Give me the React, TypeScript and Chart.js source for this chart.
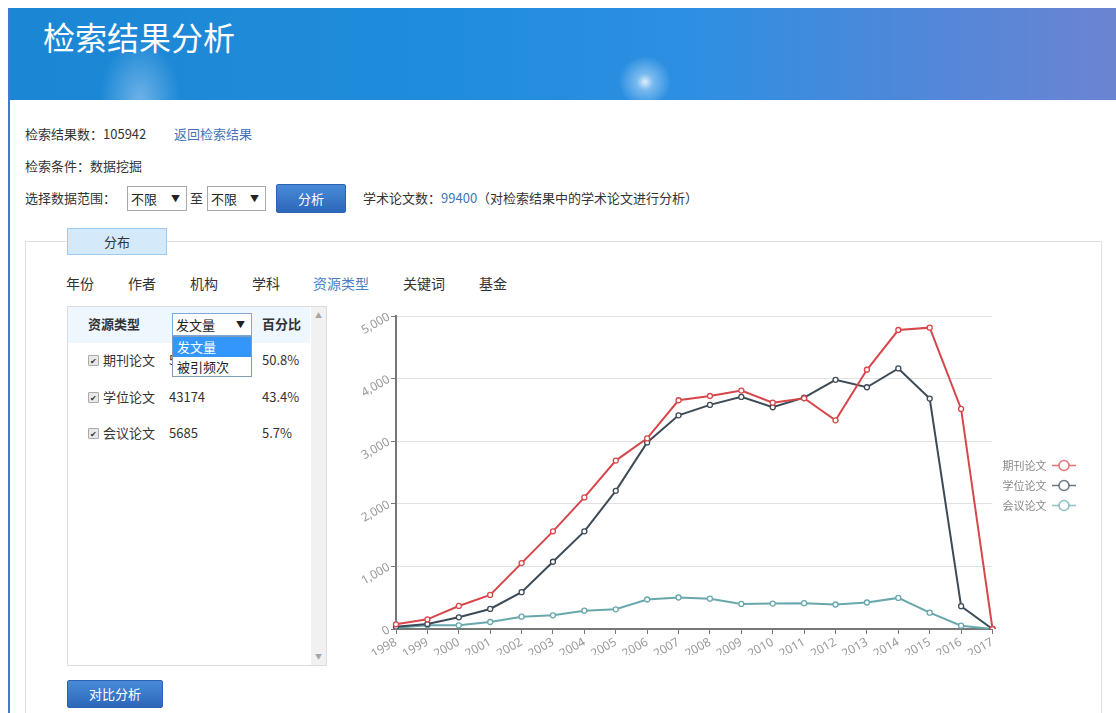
import React, { useEffect, useRef } from "react";
import { Chart, registerables } from "chart.js";
Chart.register(...registerables);

const years = ["1998","1999","2000","2001","2002","2003","2004","2005","2006","2007","2008","2009","2010","2011","2012","2013","2014","2015","2016","2017"];
const journal = [75,155,368,545,1053,1560,2102,2690,3045,3654,3722,3808,3615,3686,3333,4141,4776,4814,3516,0];
const thesis = [37,80,187,320,588,1074,1560,2207,2981,3413,3580,3708,3542,3697,3981,3862,4162,3681,364,0];
const conference = [20,59,59,112,197,219,293,315,471,503,484,401,406,412,391,423,497,261,53,0];
const seriesNames = ["期刊论文","学位论文","会议论文"];
const seriesColors = ["#d6474b","#3d4b57","#68a8ad"];
const yMax = 5000;
const yStep = 1000;

const resourceTypes = ["期刊论文","学位论文","会议论文"];
const resourceCounts = ["50541","43174","5685"];
const resourcePercents = ["50.8%","43.4%","5.7%"];
const navItems = ["年份","作者","机构","学科","资源类型","关键词","基金"];
const navX = [66,128,190,252,313,403,479];

const FONT = "'Noto Sans CJK SC', 'Noto Sans', sans-serif";

function makeSymbol(color: string) {
  const c = document.createElement("canvas");
  c.width = 24; c.height = 13;
  const ctx = c.getContext("2d")!;
  ctx.globalAlpha = 0.75;
  ctx.strokeStyle = color; ctx.lineWidth = 1.5;
  ctx.beginPath(); ctx.moveTo(0, 6.5); ctx.lineTo(24, 6.5); ctx.stroke();
  ctx.beginPath(); ctx.arc(12, 6.5, 5, 0, Math.PI * 2);
  ctx.globalAlpha = 1; ctx.fillStyle = "#fff"; ctx.fill();
  ctx.globalAlpha = 0.75; ctx.stroke();
  return c;
}

function LineChart() {
  const ref = useRef<HTMLCanvasElement>(null);
  useEffect(() => {
    const symbols = seriesColors.map(makeSymbol);
    const values = [journal, thesis, conference];
    const chart = new Chart(ref.current!, {
      type: "line",
      data: {
        labels: years,
        datasets: values.map((v, i) => ({
          label: seriesNames[i],
          data: v,
          borderColor: seriesColors[i],
          backgroundColor: seriesColors[i],
          borderWidth: 2,
          pointRadius: 2.5,
          pointBorderWidth: 1.3,
          pointBackgroundColor: "#fff",
          pointBorderColor: seriesColors[i],
          tension: 0,
          fill: false,
        })),
      },
      options: {
        animation: false,
        responsive: false,
        maintainAspectRatio: false,
        locale: "en-US",
        layout: { padding: { top: 16, right: 17, left: 0, bottom: 10 } },
        plugins: {
          tooltip: { enabled: false },
          legend: {
            position: "right",
            align: "center",
            rtl: true,
            labels: {
              usePointStyle: true,
              pointStyleWidth: 24,
              color: "#888",
              padding: 9,
              font: { family: FONT, size: 11 },
              generateLabels: (c: any) => {
                const items = (Chart.defaults.plugins.legend.labels as any).generateLabels(c);
                items.forEach((it: any, i: number) => { it.pointStyle = symbols[i]; it.fontColor = "#888"; });
                return items;
              },
            },
          },
        },
        scales: {
          x: {
            type: "category",
            offset: false,
            ticks: { minRotation: 30, maxRotation: 30, color: "#9a9a9a", font: { family: "'Noto Sans', sans-serif", size: 12 }, padding: 1, autoSkip: false },
            grid: { drawOnChartArea: false, drawTicks: true, tickLength: 5, color: "#777" },
            border: { color: "#777", width: 2 },
            afterFit: (s: any) => { s.height = 26; },
          },
          y: {
            min: 0,
            max: yMax,
            ticks: { stepSize: yStep, minRotation: 30, maxRotation: 30, color: "#9a9a9a", font: { family: "'Noto Sans', sans-serif", size: 12 }, padding: 2 },
            grid: { color: "#e2e2e2", tickColor: "#777", tickLength: 5, lineWidth: 1 },
            border: { color: "#777", width: 2 },
            afterFit: (s: any) => { s.width = 51; },
          },
        },
      } as any,
    });
    return () => chart.destroy();
  }, []);
  return <canvas ref={ref} width={757} height={365} style={{ position: "absolute", left: 345, top: 300, width: 757, height: 365 }} />;
}

const abs = (l: number, t: number, extra: React.CSSProperties = {}): React.CSSProperties => ({ position: "absolute", left: l, top: t, ...extra });

function Check({ l, t }: { l: number; t: number }) {
  return (
    <div style={abs(l, t, { width: 9, height: 9, border: "1px solid #aaa", background: "#e8e8e8", borderRadius: 1, fontSize: 8, lineHeight: "9px", textAlign: "center", color: "#333" })}>✔</div>
  );
}

function SelectBox({ l, t, w, h, text, border }: { l: number; t: number; w: number; h: number; text: string; border: string }) {
  return (
    <div style={abs(l, t, { width: w - 2, height: h - 2, border: `1px solid ${border}`, background: "#fff" })}>
      <span style={abs(3, 0, { lineHeight: `${h - 2}px`, fontSize: 13, color: "#222" })}>{text}</span>
      <span style={abs(w - 17, 0, { lineHeight: `${h - 2}px`, fontSize: 9, color: "#222" })}>▼</span>
    </div>
  );
}

const btnStyle: React.CSSProperties = {
  background: "linear-gradient(#4a8ad8, #2c67ba)",
  border: "1px solid #2b63b2",
  borderRadius: 2,
  color: "#fff",
  fontSize: 13,
  textAlign: "center",
};

export default function App() {
  return (
    <div style={{ fontFamily: FONT, fontSize: 13, color: "#333" }}>
      <div style={abs(8, 8, { width: 2, height: 705, background: "#3d7bd2" })} />
      <div style={abs(10, 8, {
        width: 1106, height: 92,
        background: "radial-gradient(circle at 635px 74px, rgba(255,255,255,0.85) 0px, rgba(200,230,255,0.5) 8px, rgba(150,200,255,0) 26px), radial-gradient(ellipse 40px 60px at 130px 92px, rgba(190,220,250,0.5), rgba(190,220,250,0)), linear-gradient(90deg, #1b86d3 0%, #208ddc 40%, #2e8fe2 62%, #4d88da 80%, #6b84d2 100%)",
      })}>
        <div style={abs(33, 4, { fontSize: 32, lineHeight: "48px", color: "#fff" })}>检索结果分析</div>
      </div>

      <div style={abs(25, 124, { lineHeight: "20px", whiteSpace: "nowrap" })}>检索结果数：105942</div>
      <div style={abs(174, 124, { lineHeight: "20px", color: "#3f74b8" })}>返回检索结果</div>
      <div style={abs(25, 156, { lineHeight: "20px" })}>检索条件：数据挖掘</div>
      <div style={abs(25, 188, { lineHeight: "20px" })}>选择数据范围：</div>
      <SelectBox l={127} t={186} w={60} h={25} text="不限" border="#a9a9a9" />
      <div style={abs(190, 188, { lineHeight: "20px" })}>至</div>
      <SelectBox l={207} t={186} w={59} h={25} text="不限" border="#a9a9a9" />
      <div style={abs(276, 184, { ...btnStyle, width: 68, height: 27, lineHeight: "27px" })}>分析</div>
      <div style={abs(363, 188, { lineHeight: "20px", whiteSpace: "nowrap" })}>
        学术论文数：<span style={{ color: "#3f74b8" }}>99400</span>（对检索结果中的学术论文进行分析）
      </div>

      <div style={abs(25, 241, { width: 1075, height: 480, border: "1px solid #dedede", background: "#fff" })} />
      <div style={abs(67, 228, { width: 98, height: 25, border: "1px solid #9fcbef", background: "#d4eafb", textAlign: "center", lineHeight: "25px" })}>分布</div>

      {navItems.map((n, i) => (
        <div key={n} style={abs(navX[i], 273, { fontSize: 14, lineHeight: "20px", color: i === 4 ? "#4a7fc3" : "#333", whiteSpace: "nowrap" })}>{n}</div>
      ))}

      <div style={abs(67, 306, { width: 258, height: 358, border: "1px solid #dcdcdc", background: "#fff" })}>
        <div style={abs(0, 0, { width: 242, height: 36, background: "#eef6fe" })} />
        <div style={abs(243, 0, { width: 15, height: 358, background: "#f1f1f1" })}>
          <div style={abs(4, 3, { fontSize: 7, color: "#a5a5a5" })}>▲</div>
          <div style={abs(4, 344, { fontSize: 7, color: "#a5a5a5" })}>▼</div>
        </div>
      </div>
      <div style={abs(88, 314, { lineHeight: "20px", fontWeight: "bold" })}>资源类型</div>
      <SelectBox l={172} t={313} w={80} h={23} text="发文量" border="#7ea8d8" />
      <div style={abs(262, 314, { lineHeight: "20px", fontWeight: "bold" })}>百分比</div>

      {resourceTypes.map((r, i) => {
        const cy = [360, 397, 433][i];
        return (
          <React.Fragment key={r}>
            <Check l={88} t={cy - 5} />
            <div style={abs(103, cy - 10, { lineHeight: "20px" })}>{r}</div>
            <div style={abs(169, cy - 10, { lineHeight: "20px" })}>{resourceCounts[i]}</div>
            <div style={abs(262, cy - 10, { lineHeight: "20px" })}>{resourcePercents[i]}</div>
          </React.Fragment>
        );
      })}

      <div style={abs(172, 336, { width: 78, height: 39, border: "1px solid #7f9db9", background: "#fff" })}>
        <div style={abs(0, 0, { width: 78, height: 20, background: "#3296fa", color: "#fff", lineHeight: "20px", paddingLeft: 4, boxSizing: "border-box" })}>发文量</div>
        <div style={abs(0, 20, { width: 78, height: 19, color: "#222", lineHeight: "19px", paddingLeft: 4, boxSizing: "border-box" })}>被引频次</div>
      </div>

      <div style={abs(67, 680, { ...btnStyle, width: 94, height: 26, lineHeight: "26px" })}>对比分析</div>

      <LineChart />
    </div>
  );
}
